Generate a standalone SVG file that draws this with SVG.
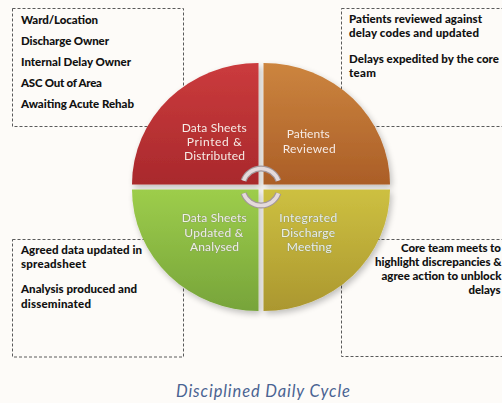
<svg xmlns="http://www.w3.org/2000/svg" width="502" height="403" viewBox="0 0 502 403">
  <defs>
    <style>
      .note { fill: none; stroke: #5a5a5a; stroke-width: 1; stroke-dasharray: 3 2; }
      .notetext { font-family: Lato, "Liberation Sans", sans-serif; font-weight: 900; font-size: 11.5px; fill: #111111; }
      .qlabel { font-family: Lato, "Liberation Sans", sans-serif; font-size: 12px; }
      .qtop { fill: #f6ebe6; }
      .qbot { fill: #eef1e4; stroke: #869170; stroke-width: 0.6; paint-order: stroke; }
      .caption { font-family: Lato, "Liberation Sans", sans-serif; font-style: italic; font-size: 16.5px; fill: #4a6392; }
      .cycle-edge { fill: none; stroke: #a3979a; stroke-width: 6; }
      .cycle-core { fill: none; stroke: #e4dadc; stroke-width: 3.6; }
    </style>
    <linearGradient id="gRed" x1="0" y1="0" x2="0" y2="1">
      <stop offset="0" stop-color="#cb3b3d"/>
      <stop offset="1" stop-color="#a9292c"/>
    </linearGradient>
    <linearGradient id="gOrange" x1="0" y1="0" x2="0" y2="1">
      <stop offset="0" stop-color="#cc853f"/>
      <stop offset="1" stop-color="#ab5e27"/>
    </linearGradient>
    <linearGradient id="gGreen" x1="0" y1="0" x2="0" y2="1">
      <stop offset="0" stop-color="#9dcd4b"/>
      <stop offset="1" stop-color="#77a43a"/>
    </linearGradient>
    <linearGradient id="gOlive" x1="0" y1="0" x2="0" y2="1">
      <stop offset="0" stop-color="#cdc041"/>
      <stop offset="1" stop-color="#ab972f"/>
    </linearGradient>
    <filter id="shadow" x="-10%" y="-10%" width="125%" height="125%">
      <feGaussianBlur in="SourceAlpha" stdDeviation="3"/>
      <feOffset dx="2" dy="3" result="b"/>
      <feComponentTransfer><feFuncA type="linear" slope="0.25"/></feComponentTransfer>
      <feMerge><feMergeNode/><feMergeNode in="SourceGraphic"/></feMerge>
    </filter>
  </defs>

  <rect width="502" height="403" fill="#fdfbf8"/>

  <!-- dashed note boxes (behind the wheel) -->
  <g id="note-data-fields">
    <rect class="note" x="12.5" y="8.5" width="171" height="118"/>
    <text class="notetext" x="21" y="24" textLength="77">Ward/Location</text>
    <text class="notetext" x="21" y="45" textLength="88">Discharge Owner</text>
    <text class="notetext" x="21" y="66" textLength="110">Internal Delay Owner</text>
    <text class="notetext" x="21" y="87" textLength="81">ASC Out of Area</text>
    <text class="notetext" x="21" y="108" textLength="113">Awaiting Acute Rehab</text>
  </g>
  <g id="note-review">
    <rect class="note" x="341.5" y="8.5" width="170" height="118"/>
    <text class="notetext" x="349" y="23" textLength="133">Patients reviewed against</text>
    <text class="notetext" x="349" y="36.8" textLength="130">delay codes and updated</text>
    <text class="notetext" x="349" y="63.3" textLength="150">Delays expedited by the core</text>
    <text class="notetext" x="349" y="77.2" textLength="27">team</text>
  </g>
  <g id="note-analysis">
    <rect class="note" x="12.5" y="239.5" width="171" height="117.5"/>
    <text class="notetext" x="21" y="254" textLength="121">Agreed data updated in</text>
    <text class="notetext" x="21" y="267.8" textLength="65">spreadsheet</text>
    <text class="notetext" x="21" y="293.3" textLength="116">Analysis produced and</text>
    <text class="notetext" x="21" y="307.7" textLength="70">disseminated</text>
  </g>
  <g id="note-meeting">
    <rect class="note" x="341.5" y="239.5" width="170" height="117"/>
    <text class="notetext" x="401" y="252.4" textLength="100">Core team meets to</text>
    <text class="notetext" x="375" y="266.2" textLength="126.5">highlight discrepancies &amp;</text>
    <text class="notetext" x="381.5" y="280" textLength="120">agree action to unblock</text>
    <text class="notetext" x="468.5" y="293.8" textLength="32">delays</text>
  </g>

  <!-- the four-stage wheel -->
  <g filter="url(#shadow)">
    <g id="stage-printed">
      <path d="M258.5,184.5 L132,184.5 A126.5,121.5 0 0 1 258.5,63 Z" fill="url(#gRed)"/>
      <text class="qlabel qtop" x="181.7" y="131.7" textLength="65">Data Sheets</text>
      <text class="qlabel qtop" x="186.7" y="146" textLength="55">Printed &amp;</text>
      <text class="qlabel qtop" x="184" y="160" textLength="61">Distributed</text>
    </g>
    <g id="stage-reviewed">
      <path d="M263.5,184.5 L263.5,63 A126.5,121.5 0 0 1 390,184.5 Z" fill="url(#gOrange)"/>
      <text class="qlabel qtop" x="286.7" y="138.3" textLength="43">Patients</text>
      <text class="qlabel qtop" x="282.7" y="152.7" textLength="53">Reviewed</text>
    </g>
    <g id="stage-meeting">
      <path d="M263.5,189.5 L390,189.5 A126.5,121.5 0 0 1 263.5,311 Z" fill="url(#gOlive)"/>
      <text class="qlabel qbot" x="279.3" y="221.7" textLength="58">Integrated</text>
      <text class="qlabel qbot" x="281" y="236.7" textLength="54">Discharge</text>
      <text class="qlabel qbot" x="286.7" y="251" textLength="45">Meeting</text>
    </g>
    <g id="stage-analysed">
      <path d="M258.5,189.5 L258.5,311 A126.5,121.5 0 0 1 132,189.5 Z" fill="url(#gGreen)"/>
      <text class="qlabel qbot" x="181.7" y="221.7" textLength="65">Data Sheets</text>
      <text class="qlabel qbot" x="184.3" y="236.7" textLength="59">Updated &amp;</text>
      <text class="qlabel qbot" x="190" y="251" textLength="49">Analysed</text>
    </g>
  </g>

  <!-- cycle arrows in the hub -->
  <g id="connectors">
    <path class="cycle-edge" d="M243.6,180.7 A18.5,18.5 0 0 1 278.4,180.7"/>
    <path class="cycle-core" d="M243.6,180.7 A18.5,18.5 0 0 1 278.4,180.7"/>
    <path class="cycle-edge" d="M278.4,193.3 A18.5,18.5 0 0 1 243.6,193.3"/>
    <path class="cycle-core" d="M278.4,193.3 A18.5,18.5 0 0 1 243.6,193.3"/>
  </g>

  <g id="caption">
    <text class="caption" x="176" y="397.3" textLength="174">Disciplined Daily Cycle</text>
  </g>
</svg>
